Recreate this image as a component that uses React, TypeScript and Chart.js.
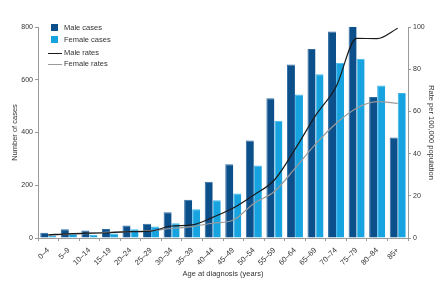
import React, { useEffect, useRef } from "react";
import { Chart, registerables } from "chart.js";

Chart.register(...registerables);

const categories = ["0–4", "5–9", "10–14", "15–19", "20–24", "25–29", "30–34", "35–39", "40–44", "45–49", "50–54", "55–59", "60–64", "65–69", "70–74", "75–79", "80–84", "85+"];
const maleCases = [20, 33, 28, 34, 47, 54, 98, 145, 213, 280, 370, 530, 658, 717, 783, 806, 535, 381];
const femaleCases = [10, 18, 12, 17, 33, 44, 56, 109, 143, 169, 275, 445, 544, 621, 664, 680, 578, 550];
const maleRates = [1.5, 2, 2.3, 2.5, 3, 3.3, 5.7, 6.2, 9.8, 14.2, 20.4, 27.5, 42, 58, 71.7, 94.6, 94.5, 99.4];
const femaleRates = [1.2, 1.8, 2.2, 2.8, 3, 3.5, 4.5, 5.4, 7, 8.5, 16.4, 22, 33, 44.5, 54.3, 61.5, 64.6, 63.8];
const leftTicks = [0, 200, 400, 600, 800];
const rightTicks = [0, 20, 40, 60, 80, 100];

const FONT = "'Liberation Sans', Arial, sans-serif";
const MALE = "#0b4f8b";
const FEMALE = "#17a3e0";
const MALE_LINE = "#1a1a1a";
const FEMALE_LINE = "#9a9a9a";
const AXIS = "#9a9a9a";
const TEXT = "#333333";

export default function App() {
  const ref = useRef<HTMLCanvasElement | null>(null);
  useEffect(() => {
    if (!ref.current) return;
    const chart = new Chart(ref.current, {
      type: "bar",
      data: {
        labels: categories,
        datasets: [
          { type: "line", label: "Male rates", data: maleRates, yAxisID: "y1", borderColor: MALE_LINE, borderWidth: 1.2, pointRadius: 0, cubicInterpolationMode: "monotone", order: 0 },
          { type: "line", label: "Female rates", data: femaleRates, yAxisID: "y1", borderColor: FEMALE_LINE, borderWidth: 1.2, pointRadius: 0, cubicInterpolationMode: "monotone", order: 0 },
          { type: "bar", label: "Male cases", data: maleCases, yAxisID: "y", backgroundColor: MALE, borderColor: "#2f6aa0", borderWidth: { left: 1, top: 1 } as any, borderSkipped: "bottom", categoryPercentage: 0.78, barPercentage: 1, order: 1 },
          { type: "bar", label: "Female cases", data: femaleCases, yAxisID: "y", backgroundColor: FEMALE, borderColor: "#3db5ea", borderWidth: { left: 1, top: 1 } as any, borderSkipped: "bottom", categoryPercentage: 0.78, barPercentage: 1, order: 1 },
        ],
      },
      options: {
        animation: false,
        responsive: false,
        maintainAspectRatio: false,
        layout: { padding: { top: 27, left: 0, right: 0, bottom: 0 } },
        plugins: { legend: { display: false }, tooltip: { enabled: false } },
        scales: {
          x: {
            grid: { display: true, drawOnChartArea: false, drawTicks: true, tickLength: 3, color: AXIS, offset: true },
            border: { color: AXIS },
            ticks: { font: { family: FONT, size: 7.5 }, color: TEXT, maxRotation: 45, minRotation: 45, padding: 5, autoSkip: false },
            title: { display: true, text: "Age at diagnosis (years)", font: { family: FONT, size: 7.5 }, color: TEXT, padding: { top: 2, bottom: 7 } },
            afterFit: (s: any) => { s.height = 47; },
          },
          y: {
            position: "left",
            min: 0,
            max: 800,
            afterBuildTicks: (s: any) => { s.ticks = leftTicks.map((v) => ({ value: v })); },
            grid: { drawOnChartArea: false, drawTicks: true, tickLength: 3, color: AXIS },
            border: { color: AXIS },
            ticks: { font: { family: FONT, size: 7 }, color: TEXT, padding: 2 },
            title: { display: true, text: "Number of cases", font: { family: FONT, size: 7.5 }, color: TEXT, padding: { top: 10, bottom: 0 } },
            afterFit: (s: any) => { s.width = 38; },
          },
          y1: {
            position: "right",
            min: 0,
            max: 100,
            afterBuildTicks: (s: any) => { s.ticks = rightTicks.map((v) => ({ value: v })); },
            grid: { drawOnChartArea: false, drawTicks: true, tickLength: 3, color: AXIS },
            border: { color: AXIS },
            ticks: { font: { family: FONT, size: 7 }, color: TEXT, padding: 2 },
            title: { display: true, text: "Rate per 100,000 population", font: { family: FONT, size: 7.5 }, color: TEXT, padding: { top: 10, bottom: 0 } },
            afterFit: (s: any) => { s.width = 38; },
          },
        },
      },
    });
    return () => chart.destroy();
  }, []);

  const legendText: React.CSSProperties = { position: "absolute", fontFamily: FONT, fontSize: 7.5, color: TEXT, lineHeight: "8px", whiteSpace: "nowrap" };
  return (
    <div style={{ position: "fixed", left: 0, top: 0, width: 446, height: 285, background: "#fff" }}>
      <canvas ref={ref} width={446} height={285} style={{ display: "block" }} />
      <div style={{ position: "absolute", left: 51, top: 24, width: 7, height: 7, background: MALE }} />
      <div style={{ ...legendText, left: 64, top: 24 }}>Male cases</div>
      <div style={{ position: "absolute", left: 51, top: 36, width: 7, height: 7, background: FEMALE }} />
      <div style={{ ...legendText, left: 64, top: 36 }}>Female cases</div>
      <div style={{ position: "absolute", left: 48, top: 53, width: 14, height: 1.2, background: MALE_LINE }} />
      <div style={{ ...legendText, left: 64, top: 49 }}>Male rates</div>
      <div style={{ position: "absolute", left: 48, top: 64, width: 14, height: 1.2, background: FEMALE_LINE }} />
      <div style={{ ...legendText, left: 64, top: 60 }}>Female rates</div>
    </div>
  );
}
